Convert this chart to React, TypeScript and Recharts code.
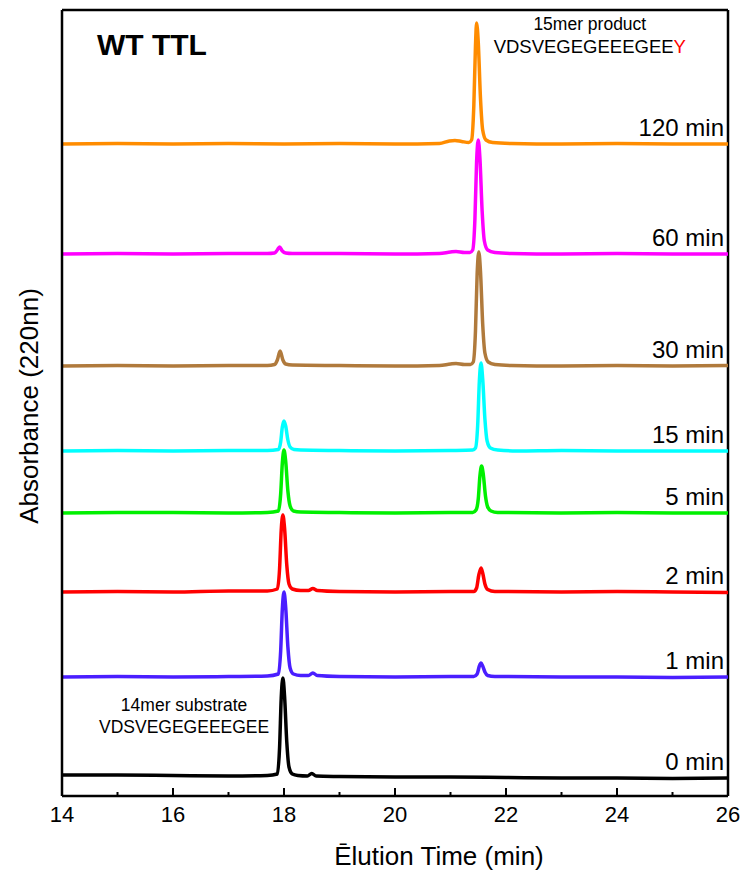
// HPLC traces for the WT TTL tyrosination time course.
// Each run is drawn on its own baseline, stacked like the original figure.

import { LineChart, Line, XAxis, YAxis, ReferenceLine, ReferenceDot } from "recharts";

type Pt = [number, number];

const FONT = "'Liberation Sans', Arial, Helvetica, sans-serif";

const runLabels = ["0 min", "1 min", "2 min", "5 min", "15 min", "30 min", "60 min", "120 min"];
const runColors = ["#000000", "#4A1EFF", "#FF0000", "#00F000", "#00FFFF", "#B07A3C", "#FF00FF", "#FF8C00"];
// baseline of each run, absorbance (a.u.)
const runOffsets = [18, 119, 204, 283, 345, 430, 542, 652];

const xTicks = [14, 15, 16, 17, 18, 19, 20, 21, 22, 23, 24, 25, 26];

// [elution time (min), absorbance above its own baseline]
const run0: Pt[] = [
  [14, 3], [15, 3], [16, 2.5], [17, 2], [17.7, 2.5], [17.88, 4], [17.92, 30], [17.95, 80],
  [17.98, 100], [18.01, 82], [18.05, 36], [18.09, 11], [18.15, 4], [18.25, 2.5], [18.42, 2],
  [18.5, 4.5], [18.58, 2], [19, 1.5], [20, 1], [21, 1], [22, 0.5], [23, 0], [24, 0], [25, -0.5], [26, 0],
];
const run1: Pt[] = [
  [14, 0], [15, 0.5], [16, 0], [17, 0.5], [17.7, 1], [17.9, 3], [17.94, 26], [17.97, 68],
  [18.0, 85], [18.03, 70], [18.07, 30], [18.11, 9], [18.17, 3], [18.3, 1.5], [18.44, 1.5],
  [18.52, 4], [18.6, 1.5], [19, 0.5], [20, 0], [21, 0.5], [21.42, 0.5], [21.48, 3], [21.52, 11],
  [21.55, 14], [21.58, 11], [21.62, 5], [21.67, 1.5], [21.8, 0.5], [23, 0], [24, 0], [25, -0.5], [26, 0],
];
const run2: Pt[] = [
  [14, 0], [15, 0.5], [16, 0], [17, 1], [17.7, 1], [17.88, 3], [17.92, 23], [17.95, 62],
  [17.98, 77], [18.01, 64], [18.05, 27], [18.09, 8], [18.15, 3], [18.3, 1.5], [18.44, 1.5],
  [18.52, 3.5], [18.6, 1.5], [19, 0.5], [20, 0], [21, 0.5], [21.42, 0.5], [21.47, 4], [21.51, 17],
  [21.55, 24], [21.58, 19], [21.62, 8], [21.67, 2.5], [21.8, 0.5], [23, 0], [24, 0.5], [25, 0], [26, -0.5],
];
const run5: Pt[] = [
  [14, 0], [15, 0.5], [16, 0.5], [17, 0], [17.7, 0.5], [17.9, 2], [17.94, 19], [17.97, 50],
  [18.0, 63], [18.03, 52], [18.07, 22], [18.11, 7], [18.17, 2], [18.3, 1], [19, 0.5], [20, 0],
  [21, 0.5], [21.4, 0.5], [21.46, 3], [21.5, 14], [21.53, 37], [21.56, 47], [21.59, 39],
  [21.63, 17], [21.67, 6], [21.73, 2], [21.85, 0.5], [23, 0], [24, 0.5], [25, 0], [26, 0],
];
const run15: Pt[] = [
  [14, 0], [15, 0.5], [16, 0], [17, 0.5], [17.7, 0.5], [17.9, 1.5], [17.94, 9], [17.97, 24],
  [18.0, 30], [18.03, 25], [18.07, 11], [18.11, 4], [18.18, 1.5], [18.3, 1], [19, 0.5], [20, 0],
  [21, 0.5], [21.4, 1], [21.45, 3], [21.49, 26], [21.52, 70], [21.55, 88], [21.58, 72],
  [21.62, 32], [21.66, 10], [21.72, 3], [21.85, 1], [22.2, 0], [23, 0.5], [24, 0], [25, 0], [26, 0],
];
const run30: Pt[] = [
  [14, 0], [15, 0.5], [16, 0], [17, 0.5], [17.7, 0.5], [17.83, 1.5], [17.88, 6], [17.93, 15],
  [17.98, 6], [18.03, 2], [18.15, 1], [19, 0.5], [20, 0], [20.8, 0.5], [21.0, 2], [21.1, 2.5],
  [21.25, 1.5], [21.36, 1.5], [21.41, 4], [21.45, 35], [21.48, 92], [21.51, 114], [21.54, 95],
  [21.58, 42], [21.62, 13], [21.68, 4], [21.8, 1.5], [22.1, 0.5], [23, 0], [24, 0.5], [25, 0], [26, 0.5],
];
const run60: Pt[] = [
  [14, 0], [15, 0.5], [16, 0], [17, 0.5], [17.7, 0.5], [17.83, 1], [17.88, 4], [17.92, 7],
  [17.97, 3], [18.03, 1], [18.15, 0.5], [19, 0.5], [20, 0], [20.8, 0.5], [21.0, 2], [21.1, 2.5],
  [21.25, 1.5], [21.35, 1.5], [21.4, 4], [21.44, 35], [21.47, 92], [21.5, 114], [21.53, 96],
  [21.57, 43], [21.61, 13], [21.67, 4], [21.8, 1.5], [22.1, 0.5], [23, 0], [24, 0.5], [25, 0], [26, 0],
];
const run120: Pt[] = [
  [14, 0], [15, 0.5], [16, 0], [17, 0.5], [18, 0], [19, 0.5], [20, 0], [20.8, 0.5], [20.98, 3],
  [21.08, 3.5], [21.2, 2.5], [21.33, 1.5], [21.38, 4], [21.42, 38], [21.45, 98], [21.47, 121],
  [21.5, 102], [21.54, 46], [21.58, 14], [21.64, 4], [21.76, 1.5], [22.1, 0.5], [23, 0], [24, 0.5],
  [25, 0], [26, 0],
];

const runs = [run0, run1, run2, run5, run15, run30, run60, run120];

function Note({ cx, cy, lines, anchor, size, bold }: any) {
  return (
    <text x={cx} y={cy} textAnchor={anchor} fontFamily={FONT} fontSize={size} fontWeight={bold ? 700 : 400} fill="#000">
      {lines}
    </text>
  );
}

function XTick({ x, y, payload }: any) {
  const major = payload.value % 2 === 0;
  return (
    <g>
      <line x1={x} y1={y} x2={x} y2={y - (major ? 8 : 4)} stroke="#000" strokeWidth={2} />
      {major && (
        <text x={x} y={y + 26} textAnchor="middle" fontFamily={FONT} fontSize={22} fill="#000">
          {payload.value}
        </text>
      )}
    </g>
  );
}

export default function App() {
  return (
    <div style={{ position: "absolute", left: 0, top: 0, background: "#fff" }}>
      <LineChart width={744} height={872} margin={{ top: 10, right: 16, bottom: 0, left: 0 }}>
        <XAxis
          dataKey="t"
          type="number"
          domain={[14, 26]}
          ticks={xTicks}
          interval={0}
          tickLine={false}
          tickSize={0}
          tickMargin={0}
          tick={<XTick />}
          axisLine={{ stroke: "#000", strokeWidth: 2.5 }}
          height={76}
          allowDataOverflow
          label={{
            content: (p: any) => (
              <text x={p.viewBox.x + p.viewBox.width / 2 + 44} y={865} textAnchor="middle" fontFamily={FONT} fontSize={26} fill="#000">
                Ēlution Time (min)
              </text>
            ),
          }}
        />
        <YAxis
          type="number"
          domain={[0, 786]}
          tick={false}
          tickLine={false}
          width={62}
          axisLine={{ stroke: "#000", strokeWidth: 2.5 }}
          allowDataOverflow
          label={{
            content: (p: any) => {
              const cy = p.viewBox.y + p.viewBox.height / 2 + 3;
              return (
                <text x={38} y={cy} transform={`rotate(-90, 38, ${cy})`} textAnchor="middle" fontFamily={FONT} fontSize={26} fill="#000">
                  Absorbance (220nn)
                </text>
              );
            },
          }}
        />
        <ReferenceLine y={786} stroke="#000" strokeWidth={2.5} />
        <ReferenceLine x={26} stroke="#000" strokeWidth={2.5} />

        {runs.map((run, i) => (
          <Line
            key={runLabels[i]}
            data={run.map(([t, v]) => ({ t, v: v + runOffsets[i] }))}
            dataKey="v"
            type="monotone"
            stroke={runColors[i]}
            strokeWidth={3.5}
            dot={false}
            activeDot={false}
            isAnimationActive={false}
          />
        ))}

        {runLabels.map((label, i) => (
          <ReferenceDot
            key={`lbl-${label}`}
            x={26}
            y={runOffsets[i]}
            r={0}
            shape={(p: any) => <Note cx={p.cx - 4} cy={p.cy - 8} anchor="end" size={24} lines={label} />}
          />
        ))}

        <ReferenceDot x={14.63} y={741} r={0} shape={(p: any) => <Note cx={p.cx} cy={p.cy} anchor="start" size={30} bold lines="WT TTL" />} />
        <ReferenceDot x={23.51} y={766} r={0} shape={(p: any) => <Note cx={p.cx} cy={p.cy} anchor="middle" size={17.5} lines="15mer product" />} />
        <ReferenceDot
          x={23.51}
          y={743}
          r={0}
          shape={(p: any) => (
            <Note cx={p.cx} cy={p.cy} anchor="middle" size={18.5} lines={<>VDSVEGEGEEEGEE<tspan fill="#FF0000">Y</tspan></>} />
          )}
        />
        <ReferenceDot x={16.2} y={85} r={0} shape={(p: any) => <Note cx={p.cx} cy={p.cy} anchor="middle" size={17.5} lines="14mer substrate" />} />
        <ReferenceDot x={16.2} y={63} r={0} shape={(p: any) => <Note cx={p.cx} cy={p.cy} anchor="middle" size={17.5} lines="VDSVEGEGEEEGEE" />} />
      </LineChart>
    </div>
  );
}
